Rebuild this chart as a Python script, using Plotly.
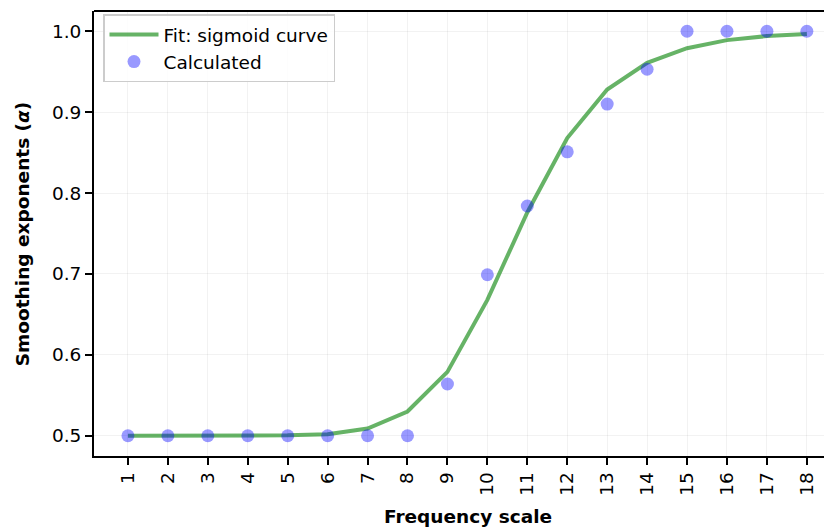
import plotly.graph_objects as go

freq_scale = list(range(1, 19))
calculated = [0.5, 0.5, 0.5, 0.5, 0.5, 0.5, 0.5, 0.5, 0.564, 0.699, 0.784, 0.851,
              0.910, 0.953, 1.0, 1.0, 1.0, 1.0]
sigmoid_fit = [0.5, 0.5, 0.5, 0.5, 0.5006, 0.502, 0.509, 0.530, 0.579, 0.668, 0.776,
               0.868, 0.928, 0.961, 0.979, 0.989, 0.994, 0.9967]
x_ticks = list(range(1, 19))
y_ticks = [0.5, 0.6, 0.7, 0.8, 0.9, 1.0]

FONT = "DejaVu Sans"
FS = 18.5
# the page body adds an 8px offset; the figure is sized to fill the rest
OFF = 8
W, H = 832 - OFF, 528 - OFF
L, T, B = 94 - OFF, 10.5 - OFF, 528 - 456
PW, PH = W - L, H - T - B

fig = go.Figure()
fig.add_trace(go.Scatter(
    x=freq_scale, y=sigmoid_fit, mode="lines", name="Fit: sigmoid curve",
    line=dict(color="rgba(0,128,0,0.6)", width=4),
))
fig.add_trace(go.Scatter(
    x=freq_scale, y=calculated, mode="markers", name="Calculated",
    marker=dict(color="rgba(0,0,255,0.4)", size=13, line=dict(width=0)),
))

axis_common = dict(
    showline=True, linecolor="black", linewidth=1.8, mirror=False,
    ticks="outside", ticklen=7, tickwidth=1.5, tickcolor="black",
    showgrid=True, gridcolor="rgba(0,0,0,0.05)", gridwidth=1.2,
    zeroline=False, automargin=False,
    tickfont=dict(family=FONT, size=FS, color="black"),
)

fig.update_layout(
    width=W, height=H,
    margin=dict(l=L, r=0, t=T, b=B),
    paper_bgcolor="white", plot_bgcolor="white",
    font=dict(family=FONT, size=FS, color="black"),
    showlegend=True,
    legend=dict(
        x=(103 - 94) / PW, y=1 - (14 - 10.5) / PH, xanchor="left", yanchor="top",
        bgcolor="rgba(255,255,255,0.8)", bordercolor="#cccccc", borderwidth=1.5,
        font=dict(family=FONT, size=FS, color="black"),
        tracegroupgap=0, itemwidth=49,
    ),
    xaxis=dict(
        axis_common, range=[0.15, 18.63], tickvals=x_ticks,
        ticktext=[str(v) for v in x_ticks], tickangle=-90,
    ),
    yaxis=dict(
        axis_common, range=[0.475, 1.025], tickvals=y_ticks,
        ticktext=[f"{v:.1f}" for v in y_ticks],
    ),
    annotations=[
        dict(text="<b>Frequency scale</b>", xref="paper", yref="paper",
             x=(467.5 - 94) / PW, y=-(517 - 456) / PH,
             xanchor="center", yanchor="middle", showarrow=False,
             font=dict(family=FONT, size=FS, color="black")),
        dict(text="<b>Smoothing exponents (<i>α</i>)</b>", xref="paper", yref="paper",
             x=-(94 - 22) / PW, y=(456 - 234) / PH, textangle=-90,
             xanchor="center", yanchor="middle", showarrow=False,
             font=dict(family=FONT, size=FS, color="black")),
    ],
)

# top spine
fig.add_shape(type="line", xref="paper", yref="paper", x0=0, x1=1, y0=1, y1=1,
              line=dict(color="black", width=1.8))

fig.write_html("out.html")
